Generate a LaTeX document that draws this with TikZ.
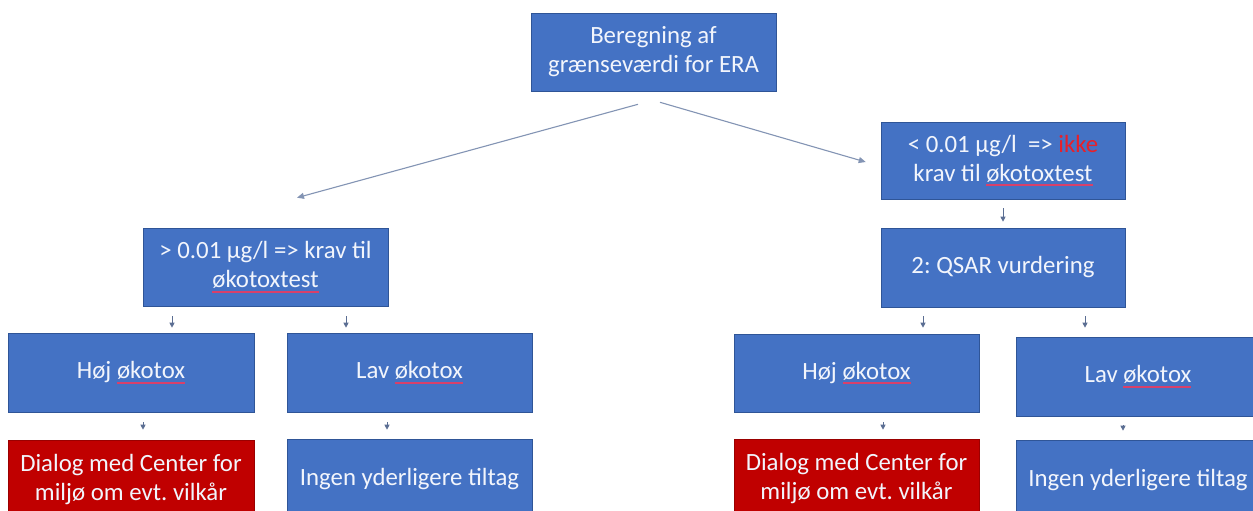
\documentclass[tikz,border=0pt]{standalone}
\usepackage{fontspec}
\setmainfont{Carlito}
\frenchspacing
\usetikzlibrary{arrows.meta,calc}
\definecolor{boxblue}{HTML}{4472C4}
\definecolor{boxedge}{HTML}{2F5597}
\definecolor{boxred}{HTML}{C00000}
\definecolor{redge}{HTML}{9A0000}
\definecolor{txt}{HTML}{F2F5FC}
\definecolor{ikkered}{HTML}{E8202A}
\definecolor{wavy}{HTML}{D8406A}
\definecolor{arrcol}{HTML}{8394B4}
\definecolor{sarrcol}{HTML}{5B6E93}
\newsavebox\splbox
\newcommand\spl[1]{\sbox\splbox{#1}\rlap{\raisebox{-5pt}{\textcolor{wavy}{\rule{\wd\splbox}{1.8pt}}}}\usebox\splbox}
\tikzset{
  flowbox/.style={rectangle, fill=boxblue, draw=boxedge, line width=0.6pt,
    text=txt, align=center, inner sep=2pt,
    font=\fontsize{24.8}{29}\selectfont\frenchspacing},
  redbox/.style={flowbox, fill=boxred, draw=redge},
  bigarr/.style={draw=arrcol, line width=1.1pt, -{Triangle[length=7pt,width=6pt]}},
  smallarr/.style={draw=sarrcol, line width=0.9pt, -{Triangle[length=5pt,width=5pt]}}
}
\begin{document}
\begin{tikzpicture}[x=1pt,y=-1pt]
\useasboundingbox (0,0) rectangle (1253,511);
\fill[white] (0,0) rectangle (1253,511);
\clip (0,0) rectangle (1253,511);

\node[flowbox, minimum width=245pt, minimum height=78pt] (top) at (653.5,52) {Beregning af\\grænseværdi for ERA};
\node[flowbox, minimum width=245pt, minimum height=78pt] (lt) at (265.5,267) {> 0.01 µg/l => krav til\\{\spl{økotoxtest}}};
\node[flowbox, minimum width=244pt, minimum height=77pt] (rt) at (1003,160.5) {< 0.01 µg/l~ => \textcolor{ikkered}{ikke}\\krav til \spl{økotoxtest}};
\node[flowbox, minimum width=244pt, minimum height=79pt] (qs) at (1003,267.5) {2: QSAR vurdering};

\node[flowbox, minimum width=246pt, minimum height=79pt] (lh) at (131,372.5) {Høj \spl{økotox}};
\node[flowbox, minimum width=245pt, minimum height=79pt] (ll) at (409.5,372.5) {Lav \spl{økotox}};
\node[redbox, minimum width=246pt, minimum height=80pt] (ld) at (131,480) {Dialog med Center for\\miljø om evt. vilkår};
\node[flowbox, minimum width=245pt, minimum height=80pt] (li) at (409.5,479) {Ingen yderligere tiltag};

\node[flowbox, minimum width=245pt, minimum height=78pt] (rh) at (856.5,373) {Høj \spl{økotox}};
\node[flowbox, minimum width=244pt, minimum height=79pt] (rl) at (1138,376.5) {Lav \spl{økotox}};
\node[redbox, minimum width=245pt, minimum height=80pt] (rd) at (856.5,479) {Dialog med Center for\\miljø om evt. vilkår};
\node[flowbox, minimum width=244pt, minimum height=80pt] (ri) at (1138,480) {Ingen yderligere tiltag};

\draw[bigarr] ($(top.south)+(-15.5,13)$) -- ($(lt.north)+(31.5,-30)$);
\draw[bigarr] ($(top.south)+(6.5,11)$) -- ($(rt.west)+(-15,1.5)$);

\draw[smallarr] ($(lt.south)+(-93.5,10)$) -- ($(lh.north)+(41,-5)$);
\draw[smallarr] ($(lt.south)+(80.5,10)$) -- ($(ll.north)+(-63.5,-5)$);
\draw[smallarr] ($(lh.south)+(12,10)$) -- ($(ld.north)+(12,-10)$);
\draw[smallarr] ($(ll.south)+(-22.5,10)$) -- ($(li.north)+(-22.5,-9)$);
\draw[smallarr] ($(rt.south)+(0,9)$) -- ($(qs.north)+(0,-6)$);
\draw[smallarr] ($(qs.south)+(-80,9)$) -- ($(rh.north)+(66.5,-6)$);
\draw[smallarr] ($(qs.south)+(82,9)$) -- ($(rl.north)+(-53,-9)$);
\draw[smallarr] ($(rh.south)+(26.5,10)$) -- ($(rd.north)+(26.5,-9)$);
\draw[smallarr] ($(rl.south)+(-15,9)$) -- ($(ri.north)+(-15,-9)$);
\end{tikzpicture}
\end{document}
